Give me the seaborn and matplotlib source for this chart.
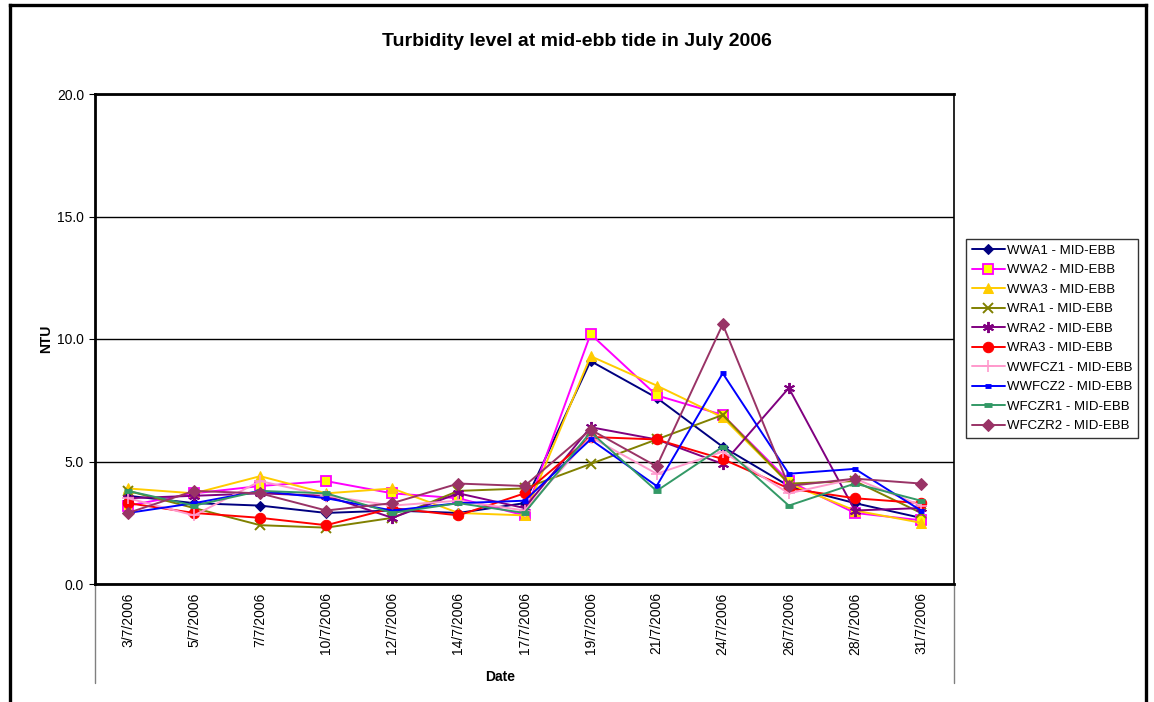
import matplotlib
matplotlib.use("Agg")
import matplotlib.pyplot as plt
from matplotlib.lines import Line2D
from matplotlib.ticker import FixedLocator, NullFormatter
import seaborn as sns
import pandas as pd

dates = ['3/7/2006', '5/7/2006', '7/7/2006', '10/7/2006', '12/7/2006', '14/7/2006',
         '17/7/2006', '19/7/2006', '21/7/2006', '24/7/2006', '26/7/2006', '28/7/2006',
         '31/7/2006']

wwa1 = [3.6, 3.3, 3.2, 2.9, 3.0, 2.9, 3.3, 9.1, 7.6, 5.6, 4.0, 3.3, 2.7]
wwa2 = [3.2, 3.7, 4.0, 4.2, 3.7, 3.5, 2.8, 10.2, 7.7, 6.9, 4.2, 2.9, 2.6]
wwa3 = [3.9, 3.7, 4.4, 3.7, 3.9, 2.9, 2.8, 9.3, 8.1, 6.8, 4.1, 3.0, 2.5]
wra1 = [3.8, 3.1, 2.4, 2.3, 2.7, 3.8, 3.9, 4.9, 5.9, 6.9, 4.1, 4.2, 2.9]
wra2 = [3.5, 3.6, 3.7, 3.6, 2.7, 3.7, 3.1, 6.4, 5.9, 4.9, 8.0, 3.0, 3.1]
wra3 = [3.3, 2.9, 2.7, 2.4, 3.1, 2.8, 3.7, 6.0, 5.9, 5.1, 3.9, 3.5, 3.3]
wwfcz1 = [3.5, 2.8, 4.2, 3.6, 3.2, 3.4, 3.0, 6.0, 4.5, 5.4, 3.7, 4.3, 3.2]
wwfcz2 = [2.9, 3.3, 3.8, 3.5, 3.0, 3.3, 3.4, 5.9, 4.0, 8.6, 4.5, 4.7, 3.0]
wfczr1 = [3.8, 3.2, 3.8, 3.7, 2.9, 3.3, 2.9, 6.2, 3.8, 5.6, 3.2, 4.1, 3.4]
wfczr2 = [2.9, 3.8, 3.7, 3.0, 3.3, 4.1, 4.0, 6.3, 4.8, 10.6, 4.0, 4.3, 4.1]

series_names = ['WWA1 - MID-EBB', 'WWA2 - MID-EBB', 'WWA3 - MID-EBB', 'WRA1 - MID-EBB',
                'WRA2 - MID-EBB', 'WRA3 - MID-EBB', 'WWFCZ1 - MID-EBB', 'WWFCZ2 - MID-EBB',
                'WFCZR1 - MID-EBB', 'WFCZR2 - MID-EBB']
series_values = [wwa1, wwa2, wwa3, wra1, wra2, wra3, wwfcz1, wwfcz2, wfczr1, wfczr2]

y_ticks = [0.0, 5.0, 10.0, 15.0, 20.0]

# per-series line and marker styling
styles = [
    dict(color='#000080', marker='D', ms=5.5, mfc='#000080', mec='#000080'),
    dict(color='#FF00FF', marker='s', ms=6.5, mfc='#FFFF00', mec='#FF00FF', mew=1.3),
    dict(color='#FFCC00', marker='^', ms=7.5, mfc='#FFCC00', mec='#FFCC00'),
    dict(color='#808000', marker='x', ms=7, mec='#808000', mew=1.4),
    dict(color='#800080', marker=(6, 2, 0), ms=8, mec='#800080', mew=1.4),
    dict(color='#FF0000', marker='o', ms=7.5, mfc='#FF0000', mec='#FF0000'),
    dict(color='#FF99CC', marker='+', ms=9, mec='#FF99CC', mew=1.2),
    dict(color='#0000FF', marker='_', ms=4.5, mec='#0000FF', mew=3.5),
    dict(color='#339966', marker='_', ms=6, mec='#339966', mew=3.5),
    dict(color='#993366', marker='D', ms=6, mfc='#993366', mec='#993366'),
]

sns.set_style("white")
plt.rcParams['font.family'] = ['Liberation Sans', 'DejaVu Sans']
plt.rcParams.update({'text.color': 'black', 'axes.labelcolor': 'black',
                     'xtick.color': 'black', 'ytick.color': 'black'})

fig = plt.figure(figsize=(11.54, 7.02), dpi=100)
ax = fig.add_axes([95 / 1154, 1 - 584 / 702, (954 - 95) / 1154, (584 - 94) / 702])

for name, vals, st in zip(series_names, series_values, styles):
    df = pd.DataFrame({'Date': dates, 'NTU': vals})
    sns.lineplot(data=df, x='Date', y='NTU', ax=ax, label=name, sort=False,
                 linewidth=1.4, **st)

ax.set_xlim(-0.5, len(dates) - 0.5)
ax.set_ylim(0, 20)
ax.set_yticks(y_ticks)
ax.set_yticklabels([f"{v:.1f}" for v in y_ticks], fontsize=10)
ax.yaxis.grid(True, color='black', linewidth=1.0)
ax.set_axisbelow(True)

# category boundaries as long separator ticks, labels at category centres
n = len(dates)
ax.xaxis.set_major_locator(FixedLocator([i + 0.5 for i in range(n - 1)]))
ax.xaxis.set_major_formatter(NullFormatter())
ax.set_xticks(list(range(n)), minor=True)
ax.set_xticklabels(dates, minor=True, rotation=90, fontsize=10, va='top')
ax.tick_params(axis='x', which='major', direction='out', length=51, width=1.0, color='black')
ax.tick_params(axis='x', which='minor', direction='out', length=2, width=0.8,
               color='black', pad=4)
ax.tick_params(axis='y', which='major', direction='out', length=4, width=0.8,
               color='black', pad=4, left=True)

for xe in (-0.5, n - 0.5):
    ax.add_line(Line2D([xe, xe], [0, -99 / 490], transform=ax.get_xaxis_transform(),
                       color='#808080', linewidth=1.0, clip_on=False))

for side in ('left', 'bottom', 'top'):
    ax.spines[side].set_color('black')
    ax.spines[side].set_linewidth(2.0)
ax.spines['right'].set_color('black')
ax.spines['right'].set_linewidth(1.2)

ax.set_xlabel('Date', fontsize=10, fontweight='bold')
ax.set_ylabel('NTU', fontsize=10, fontweight='bold')
ax.xaxis.set_label_coords(405 / 859, -86 / 490)
ax.yaxis.set_label_coords(-42 / 859, 0.5)

fig.text(577 / 1154, 1 - 42 / 702, 'Turbidity level at mid-ebb tide in July 2006',
         ha='center', va='center', fontsize=14, fontweight='bold')

leg = ax.legend(loc='upper left', bbox_to_anchor=(966 / 1154, 1 - 239 / 702),
                bbox_transform=fig.transFigure, fontsize=9.5, frameon=True,
                fancybox=False, shadow=False, borderaxespad=0, borderpad=0.42,
                handlelength=2.5, handletextpad=0.2, labelspacing=0.55)
leg.get_frame().set_edgecolor('black')
leg.get_frame().set_linewidth(1.0)

# outer chart border
x0, x1, yt = 10 / 1154, 1146 / 1154, 1 - 5 / 702
for xs, ys in (([x0, x0], [-0.01, yt]), ([x0, x1], [yt, yt]), ([x1, x1], [yt, -0.01])):
    fig.add_artist(Line2D(xs, ys, transform=fig.transFigure, color='black',
                          linewidth=2.4, solid_capstyle='projecting'))

fig.savefig('out.png', dpi=100, facecolor='white')
